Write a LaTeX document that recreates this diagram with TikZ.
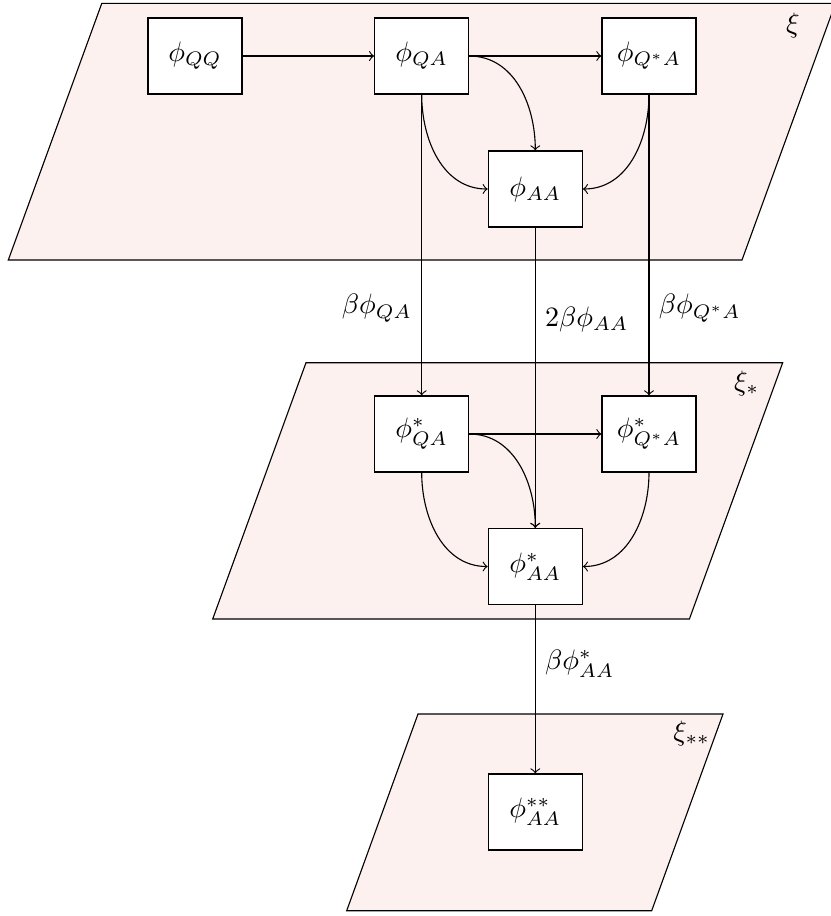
\documentclass[tikz,border=0pt]{standalone}
\definecolor{planefill}{RGB}{253,241,239}
\begin{document}
\begin{tikzpicture}[x=0.357pt,y=-0.357pt,
  box/.style={draw,fill=white,minimum width=33.56pt,minimum height=27.14pt,inner sep=0pt},
  plane/.style={draw,fill=planefill},
  arr/.style={->}]
\useasboundingbox (0,0) rectangle (831,916);
% planes
\draw[plane] (101.8,3.3) -- (835.5,3.3) -- (742,260) -- (8.3,260) -- cycle;
\draw[plane] (306,362.7) -- (782.7,362.7) -- (689.4,619) -- (212.7,619) -- cycle;
\draw[plane] (418,714) -- (723,714) -- (651.7,910.7) -- (346.7,910.7) -- cycle;
\node (xi) at (793,25) {$\xi$};
\node (xis) at (746.7,383) {$\xi_*$};
\node (xiss) at (691.7,733) {$\xi_{**}$};
% boxes
\node[box] (QQ) at (195,56) {$\phi_{QQ}$};
\node[box] (QA) at (421.7,56) {$\phi_{QA}$};
\node[box] (QsA) at (649,56) {$\phi_{Q^*A}$};
\node[box] (AA) at (535.3,189) {$\phi_{AA}$};
\node[box] (sQA) at (421.7,434) {$\phi^*_{QA}$};
\node[box] (sQsA) at (649,434) {$\phi^*_{Q^*A}$};
\node[box] (sAA) at (535.3,566.5) {$\phi^*_{AA}$};
\node[box] (ssAA) at (535.3,812) {$\phi^{**}_{AA}$};
% top plane arrows
\draw[arr] (QQ) -- (QA);
\draw[arr] (QA) -- (QsA);
\draw[arr] (QA.east) to[out=0,in=90] (AA.north);
\draw[arr] (QA.south) to[out=-90,in=180] (AA.west);
\draw[arr] (QsA.south) to[out=-90,in=0] (AA.east);
% between planes
\draw[arr] (QA) -- node[pos=0.71,left] (l1) {$\beta\phi_{QA}$} (sQA);
\draw[arr] (AA) -- node[pos=0.305,right] (l2) {$2\beta\phi_{AA}$} (sAA);
\draw[arr] (QsA) -- node[pos=0.71,right] (l3) {$\beta\phi_{Q^*A}$} (sQsA);
% middle plane arrows
\draw[arr] (sQA) -- (sQsA);
\draw[arr] (sQA.east) to[out=0,in=90] (sAA.north);
\draw[arr] (sQA.south) to[out=-90,in=180] (sAA.west);
\draw[arr] (sQsA.south) to[out=-90,in=0] (sAA.east);
% to bottom plane
\draw[arr] (sAA) -- node[pos=0.35,right] (l4) {$\beta\phi^*_{AA}$} (ssAA);
\end{tikzpicture}
\end{document}
